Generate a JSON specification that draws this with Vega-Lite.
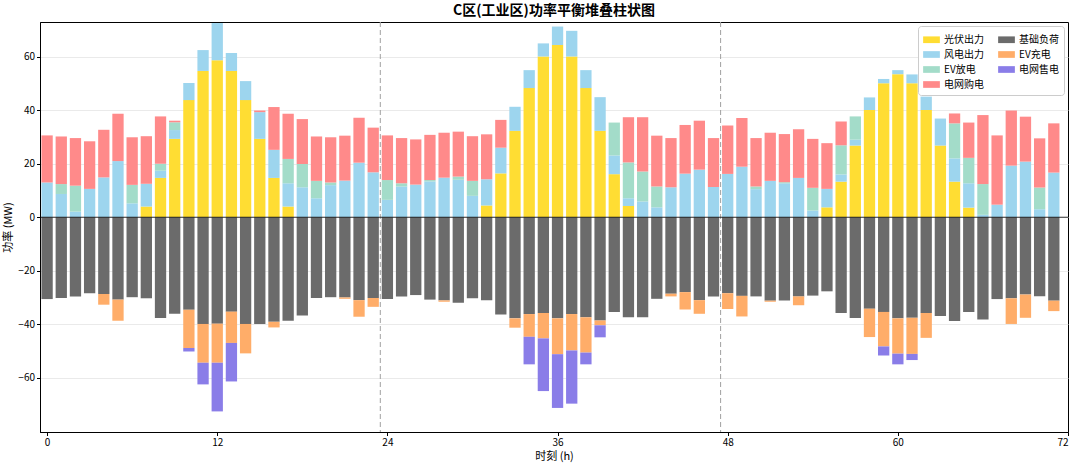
{
  "$schema": "https://vega.github.io/schema/vega-lite/v6.json",
  "width": 1028,
  "height": 410,
  "autosize": "none",
  "padding": {"left": 40, "top": 22, "right": 12, "bottom": 35},
  "title": {
    "text": "C区(工业区)功率平衡堆叠柱状图",
    "fontSize": 14,
    "fontWeight": "bold",
    "font": "Noto Sans CJK SC",
    "anchor": "middle",
    "offset": 4,
    "color": "#000"
  },
  "config": {
    "view": {"stroke": "#000", "strokeWidth": 1},
    "font": "Noto Sans CJK SC",
    "axis": {
      "domainColor": "#000",
      "tickColor": "#000",
      "tickSize": 3.5,
      "labelFontSize": 10,
      "labelColor": "#000",
      "titleFontSize": 11,
      "titleFontWeight": "normal",
      "titleColor": "#000",
      "gridColor": "#e4e4e4",
      "gridWidth": 0.8
    }
  },
  "datasets": {
    "series": [
      {"key": "pv", "name": "光伏出力", "idx": 0},
      {"key": "wind", "name": "风电出力", "idx": 1},
      {"key": "evd", "name": "EV放电", "idx": 2},
      {"key": "buy", "name": "电网购电", "idx": 3},
      {"key": "base", "name": "基础负荷", "idx": 4},
      {"key": "evc", "name": "EV充电", "idx": 5},
      {"key": "sell", "name": "电网售电", "idx": 6}
    ],
    "power": [
      {"h": 0, "pv": 0, "wind": 13.0, "evd": 0, "buy": 17.6, "base": -30.6, "evc": 0, "sell": 0},
      {"h": 1, "pv": 0, "wind": 8.7, "evd": 3.7, "buy": 17.8, "base": -30.2, "evc": 0, "sell": 0},
      {"h": 2, "pv": 0, "wind": 2.1, "evd": 9.7, "buy": 17.8, "base": -29.6, "evc": 0, "sell": 0},
      {"h": 3, "pv": 0, "wind": 10.6, "evd": 0, "buy": 17.8, "base": -28.4, "evc": 0, "sell": 0},
      {"h": 4, "pv": 0, "wind": 14.9, "evd": 0, "buy": 17.8, "base": -28.7, "evc": -4.0, "sell": 0},
      {"h": 5, "pv": 0, "wind": 21.0, "evd": 0, "buy": 17.7, "base": -30.8, "evc": -7.9, "sell": 0},
      {"h": 6, "pv": 0, "wind": 5.2, "evd": 6.9, "buy": 17.8, "base": -29.9, "evc": 0, "sell": 0},
      {"h": 7, "pv": 4.0, "wind": 8.5, "evd": 0, "buy": 17.8, "base": -30.3, "evc": 0, "sell": 0},
      {"h": 8, "pv": 14.7, "wind": 2.7, "evd": 2.6, "buy": 17.7, "base": -37.7, "evc": 0, "sell": 0},
      {"h": 9, "pv": 29.3, "wind": 3.3, "evd": 2.9, "buy": 0.6, "base": -36.1, "evc": 0, "sell": 0},
      {"h": 10, "pv": 43.8, "wind": 6.4, "evd": 0, "buy": 0, "base": -34.6, "evc": -14.3, "sell": -1.3},
      {"h": 11, "pv": 54.7, "wind": 7.8, "evd": 0, "buy": 0, "base": -39.9, "evc": -14.5, "sell": -8.1},
      {"h": 12, "pv": 58.7, "wind": 13.9, "evd": 0, "buy": 0, "base": -39.8, "evc": -14.6, "sell": -18.2},
      {"h": 13, "pv": 54.7, "wind": 6.7, "evd": 0, "buy": 0, "base": -35.3, "evc": -11.7, "sell": -14.4},
      {"h": 14, "pv": 43.8, "wind": 7.1, "evd": 0, "buy": 0, "base": -39.9, "evc": -11.0, "sell": 0},
      {"h": 15, "pv": 29.3, "wind": 10.0, "evd": 0, "buy": 0.6, "base": -39.9, "evc": 0, "sell": 0},
      {"h": 16, "pv": 14.7, "wind": 10.5, "evd": 0, "buy": 16.0, "base": -39.1, "evc": -2.1, "sell": 0},
      {"h": 17, "pv": 4.0, "wind": 8.7, "evd": 9.1, "buy": 16.9, "base": -38.7, "evc": 0, "sell": 0},
      {"h": 18, "pv": 0, "wind": 11.2, "evd": 8.7, "buy": 16.8, "base": -36.7, "evc": 0, "sell": 0},
      {"h": 19, "pv": 0, "wind": 7.1, "evd": 6.5, "buy": 16.6, "base": -30.2, "evc": 0, "sell": 0},
      {"h": 20, "pv": 0, "wind": 12.0, "evd": 1.0, "buy": 16.9, "base": -29.9, "evc": 0, "sell": 0},
      {"h": 21, "pv": 0, "wind": 13.7, "evd": 0, "buy": 16.8, "base": -30.0, "evc": -0.5, "sell": 0},
      {"h": 22, "pv": 0, "wind": 20.4, "evd": 0, "buy": 16.8, "base": -31.0, "evc": -6.2, "sell": 0},
      {"h": 23, "pv": 0, "wind": 16.8, "evd": 0, "buy": 16.7, "base": -30.2, "evc": -3.3, "sell": 0},
      {"h": 24, "pv": 0, "wind": 6.5, "evd": 7.4, "buy": 16.7, "base": -30.6, "evc": 0, "sell": 0},
      {"h": 25, "pv": 0, "wind": 11.5, "evd": 1.2, "buy": 16.9, "base": -29.6, "evc": 0, "sell": 0},
      {"h": 26, "pv": 0, "wind": 12.2, "evd": 0, "buy": 16.9, "base": -29.1, "evc": 0, "sell": 0},
      {"h": 27, "pv": 0, "wind": 13.4, "evd": 0.5, "buy": 16.9, "base": -30.8, "evc": 0, "sell": 0},
      {"h": 28, "pv": 0, "wind": 14.8, "evd": 0, "buy": 16.8, "base": -31.1, "evc": -0.5, "sell": 0},
      {"h": 29, "pv": 0, "wind": 14.0, "evd": 1.2, "buy": 16.8, "base": -32.0, "evc": 0, "sell": 0},
      {"h": 30, "pv": 0, "wind": 8.0, "evd": 5.6, "buy": 16.7, "base": -30.3, "evc": 0, "sell": 0},
      {"h": 31, "pv": 4.4, "wind": 9.8, "evd": 0, "buy": 16.8, "base": -31.0, "evc": 0, "sell": 0},
      {"h": 32, "pv": 16.4, "wind": 9.6, "evd": 0, "buy": 10.4, "base": -36.4, "evc": 0, "sell": 0},
      {"h": 33, "pv": 32.3, "wind": 9.0, "evd": 0, "buy": 0, "base": -37.8, "evc": -3.5, "sell": 0},
      {"h": 34, "pv": 48.3, "wind": 6.7, "evd": 0, "buy": 0, "base": -36.2, "evc": -8.5, "sell": -10.3},
      {"h": 35, "pv": 60.1, "wind": 4.9, "evd": 0, "buy": 0, "base": -35.8, "evc": -9.5, "sell": -19.7},
      {"h": 36, "pv": 64.4, "wind": 6.9, "evd": 0, "buy": 0, "base": -37.8, "evc": -13.4, "sell": -20.1},
      {"h": 37, "pv": 60.1, "wind": 9.6, "evd": 0, "buy": 0, "base": -36.2, "evc": -13.6, "sell": -19.9},
      {"h": 38, "pv": 48.3, "wind": 6.7, "evd": 0, "buy": 0, "base": -37.4, "evc": -13.2, "sell": -4.4},
      {"h": 39, "pv": 32.3, "wind": 12.6, "evd": 0, "buy": 0, "base": -38.6, "evc": -1.8, "sell": -4.5},
      {"h": 40, "pv": 16.1, "wind": 7.0, "evd": 12.3, "buy": 0, "base": -35.4, "evc": 0, "sell": 0},
      {"h": 41, "pv": 4.2, "wind": 2.9, "evd": 13.4, "buy": 16.9, "base": -37.4, "evc": 0, "sell": 0},
      {"h": 42, "pv": 0, "wind": 5.9, "evd": 11.2, "buy": 20.3, "base": -37.4, "evc": 0, "sell": 0},
      {"h": 43, "pv": 0, "wind": 3.7, "evd": 7.8, "buy": 19.0, "base": -30.5, "evc": 0, "sell": 0},
      {"h": 44, "pv": 0, "wind": 11.2, "evd": 0, "buy": 18.4, "base": -28.6, "evc": -1.0, "sell": 0},
      {"h": 45, "pv": 0, "wind": 16.3, "evd": 0, "buy": 18.2, "base": -28.0, "evc": -6.5, "sell": 0},
      {"h": 46, "pv": 0, "wind": 17.8, "evd": 0, "buy": 18.3, "base": -31.0, "evc": -5.1, "sell": 0},
      {"h": 47, "pv": 0, "wind": 11.3, "evd": 0, "buy": 18.3, "base": -29.6, "evc": 0, "sell": 0},
      {"h": 48, "pv": 0, "wind": 16.2, "evd": 0, "buy": 18.1, "base": -28.4, "evc": -5.9, "sell": 0},
      {"h": 49, "pv": 0, "wind": 18.9, "evd": 0, "buy": 18.2, "base": -29.4, "evc": -7.7, "sell": 0},
      {"h": 50, "pv": 0, "wind": 10.5, "evd": 1.0, "buy": 18.1, "base": -29.6, "evc": 0, "sell": 0},
      {"h": 51, "pv": 0, "wind": 13.6, "evd": 0, "buy": 18.0, "base": -31.2, "evc": -0.4, "sell": 0},
      {"h": 52, "pv": 0, "wind": 12.7, "evd": 0.4, "buy": 18.0, "base": -31.1, "evc": 0, "sell": 0},
      {"h": 53, "pv": 0, "wind": 14.7, "evd": 0, "buy": 18.2, "base": -29.6, "evc": -3.3, "sell": 0},
      {"h": 54, "pv": 0, "wind": 2.5, "evd": 8.5, "buy": 18.3, "base": -29.3, "evc": 0, "sell": 0},
      {"h": 55, "pv": 3.7, "wind": 6.9, "evd": 0, "buy": 17.1, "base": -27.7, "evc": 0, "sell": 0},
      {"h": 56, "pv": 13.3, "wind": 2.7, "evd": 10.9, "buy": 8.9, "base": -35.8, "evc": 0, "sell": 0},
      {"h": 57, "pv": 26.8, "wind": 2.2, "evd": 8.7, "buy": 0, "base": -37.7, "evc": 0, "sell": 0},
      {"h": 58, "pv": 40.1, "wind": 4.7, "evd": 0, "buy": 0, "base": -34.2, "evc": -10.6, "sell": 0},
      {"h": 59, "pv": 50.1, "wind": 1.6, "evd": 0, "buy": 0, "base": -35.4, "evc": -12.9, "sell": -3.4},
      {"h": 60, "pv": 53.5, "wind": 1.5, "evd": 0, "buy": 0, "base": -37.8, "evc": -13.2, "sell": -4.0},
      {"h": 61, "pv": 50.1, "wind": 3.3, "evd": 0, "buy": 0, "base": -37.6, "evc": -13.5, "sell": -2.3},
      {"h": 62, "pv": 40.1, "wind": 5.0, "evd": 0, "buy": 0, "base": -35.8, "evc": -9.3, "sell": 0},
      {"h": 63, "pv": 26.8, "wind": 10.1, "evd": 0, "buy": 0, "base": -36.9, "evc": 0, "sell": 0},
      {"h": 64, "pv": 13.3, "wind": 8.7, "evd": 13.1, "buy": 3.7, "base": -38.8, "evc": 0, "sell": 0},
      {"h": 65, "pv": 3.6, "wind": 9.1, "evd": 9.5, "buy": 13.2, "base": -35.4, "evc": 0, "sell": 0},
      {"h": 66, "pv": 0, "wind": 0.9, "evd": 11.5, "buy": 25.8, "base": -38.2, "evc": 0, "sell": 0},
      {"h": 67, "pv": 0, "wind": 4.7, "evd": 0, "buy": 25.9, "base": -30.6, "evc": 0, "sell": 0},
      {"h": 68, "pv": 0, "wind": 19.3, "evd": 0, "buy": 20.6, "base": -30.3, "evc": -9.6, "sell": 0},
      {"h": 69, "pv": 0, "wind": 20.8, "evd": 0, "buy": 16.8, "base": -28.9, "evc": -8.7, "sell": 0},
      {"h": 70, "pv": 0, "wind": 3.0, "evd": 8.1, "buy": 18.4, "base": -29.5, "evc": 0, "sell": 0},
      {"h": 71, "pv": 0, "wind": 16.7, "evd": 0, "buy": 18.4, "base": -31.2, "evc": -3.9, "sell": 0}
    ]
  },
  "layer": [
    {
      "data": {"name": "power"},
      "transform": [
        {"fold": ["pv", "wind", "evd", "buy", "base", "evc", "sell"], "as": ["key", "value"]},
        {"filter": "datum.value != 0"},
        {"lookup": "key", "from": {"data": {"name": "series"}, "key": "key", "fields": ["name", "idx"]}}
      ],
      "mark": {"type": "bar", "width": 11.3},
      "encoding": {
        "x": {
          "field": "h",
          "type": "quantitative",
          "scale": {"domain": [-0.5, 72], "nice": false, "zero": false, "padding": 0},
          "axis": {"values": [0, 12, 24, 36, 48, 60, 72], "title": "时刻 (h)", "grid": false, "labelPadding": 2, "titlePadding": 3}
        },
        "y": {
          "field": "value",
          "type": "quantitative",
          "stack": "zero",
          "scale": {"domain": [-80.3, 73], "nice": false, "padding": 0},
          "axis": {"values": [-60, -40, -20, 0, 20, 40, 60], "title": "功率 (MW)", "grid": true, "labelPadding": 2, "titlePadding": 4}
        },
        "color": {
          "field": "name",
          "type": "nominal",
          "scale": {
            "domain": ["光伏出力", "风电出力", "EV放电", "电网购电", "基础负荷", "EV充电", "电网售电"],
            "range": ["#ffdd33", "#9dd5ee", "#a3dcc9", "#ff8a8a", "#6b6b6b", "#ffad69", "#8a7de8"]
          },
          "legend": {
            "title": null,
            "orient": "top-right",
            "offset": 4,
            "columns": 2,
            "columnPadding": 14,
            "rowPadding": 1,
            "padding": 5,
            "fillColor": "#ffffff",
            "strokeColor": "#cccccc",
            "cornerRadius": 3,
            "symbolType": "M-1,-0.4H1V0.4H-1Z",
            "symbolSize": 280,
            "symbolStrokeWidth": 0,
            "symbolOpacity": 1,
            "labelFontSize": 10,
            "labelColor": "#000"
          }
        },
        "order": {"field": "idx", "type": "quantitative"}
      }
    },
    {
      "data": {"values": [{"h": 23.5}, {"h": 47.5}]},
      "mark": {"type": "rule", "strokeDash": [5, 3], "color": "#a0a0a0", "strokeWidth": 1},
      "encoding": {"x": {"field": "h", "type": "quantitative"}}
    },
    {
      "data": {"values": [{"y": 0}]},
      "mark": {"type": "rule", "color": "#000", "strokeWidth": 0.8},
      "encoding": {"y": {"field": "y", "type": "quantitative"}}
    }
  ]
}
